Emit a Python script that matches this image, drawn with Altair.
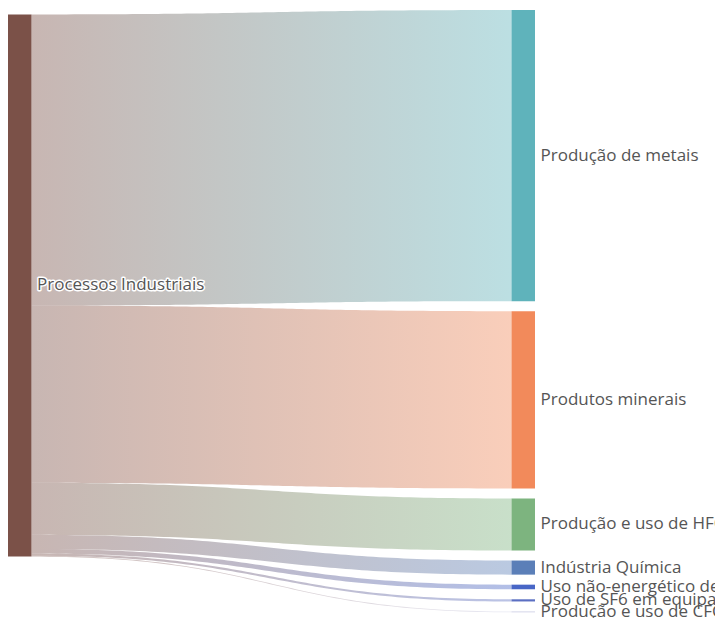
import altair as alt
import numpy as np
import pandas as pd

# Emissões de processos industriais por subsetor (participação, %)
SOURCE = "Processos Industriais"
TARGETS = [
    "Produção de metais",
    "Produtos minerais",
    "Produção e uso de HFCs",
    "Indústria Química",
    "Uso não-energético de combustíveis e uso de solventes",
    "Uso de SF6 em equipamentos elétricos",
    "Produção e uso de CFCs",
]
VALUES = [53.7, 32.7, 9.6, 2.6, 0.85, 0.4, 0.15]

SOURCE_COLOR = "#7b5148"
TARGET_COLORS = ["#5fb3bb", "#f28a5b", "#7db47f", "#5b7fb8", "#4866c6", "#5b6fc2", "#c9cbe4"]

# ---- layout -------------------------------------------------------------
W, H = 715, 618
Y_DOMAIN = 114.0          # value units spanning the full height
LEFT_TOP = 2.66           # top of the source node (value units)
RIGHT_TOP = 1.85          # top of the first target node
NODE_GAP = 1.85           # vertical gap between target nodes
COL_SPAN = 503.5          # px between the two columns
NODE_W = 23.5 / COL_SPAN  # node width in column units
LABEL_DX = 5.5 / COL_SPAN
X_DOMAIN = [-8 / COL_SPAN, (W - 8) / COL_SPAN]
FONT = "Open Sans"
FONT_SIZE = 17

total = sum(VALUES)

# nodes
node_rows = [dict(name=SOURCE, x0=0.0, x1=NODE_W, y0=LEFT_TOP, y1=LEFT_TOP + total)]
right_tops = []
y = RIGHT_TOP
for name, v in zip(TARGETS, VALUES):
    right_tops.append(y)
    node_rows.append(dict(name=name, x0=1.0, x1=1.0 + NODE_W, y0=y, y1=y + v))
    y += v + NODE_GAP
nodes = pd.DataFrame(node_rows)
nodes["ym"] = (nodes["y0"] + nodes["y1"]) / 2
nodes["lx"] = nodes["x1"] + LABEL_DX

# links: band between two horizontal cubic Bézier edges (curveness 0.5)
t = np.linspace(0, 1, 80)
xa, xb = NODE_W, 1.0
d = xb - xa
bx = ((1 - t) ** 3 * xa + 3 * (1 - t) ** 2 * t * (xa + d / 2)
      + 3 * (1 - t) * t ** 2 * (xb - d / 2) + t ** 3 * xb)
ease = 3 * t ** 2 - 2 * t ** 3

link_rows = []
offset = LEFT_TOP
for name, v, rt in zip(TARGETS, VALUES, right_tops):
    s0, s1 = offset, offset + v
    t0, t1 = rt, rt + v
    top = s0 + (t0 - s0) * ease
    bot = s1 + (t1 - s1) * ease
    for xi, a, b in zip(bx, top, bot):
        link_rows.append(dict(target=name, x=xi, ya=a, yb=b))
    offset += v
links = pd.DataFrame(link_rows)

xs = alt.Scale(domain=X_DOMAIN, range=[0, W], nice=False, zero=False)
ys = alt.Scale(domain=[0, Y_DOMAIN], range=[0, H], nice=False, zero=False)

link_layers = []
for name, col in zip(TARGETS, TARGET_COLORS):
    grad = alt.Gradient(
        gradient="linear",
        stops=[alt.GradientStop(color=SOURCE_COLOR, offset=0),
               alt.GradientStop(color=col, offset=1)],
        x1=0, x2=1, y1=0, y2=0,
    )
    link_layers.append(
        alt.Chart(links)
        .transform_filter(alt.datum.target == name)
        .mark_area(fill=grad, fillOpacity=0.42, orient="vertical", interpolate="linear")
        .encode(
            x=alt.X("x:Q", scale=xs, axis=None),
            y=alt.Y("ya:Q", scale=ys, axis=None),
            y2="yb:Q",
        )
    )

node_layer = alt.Chart(nodes).mark_rect().encode(
    x=alt.X("x0:Q", scale=xs, axis=None),
    x2="x1:Q",
    y=alt.Y("y0:Q", scale=ys, axis=None),
    y2="y1:Q",
    color=alt.Color("name:N", scale=alt.Scale(domain=[SOURCE] + TARGETS,
                                              range=[SOURCE_COLOR] + TARGET_COLORS),
                    legend=None),
)

label_enc = dict(
    x=alt.X("lx:Q", scale=xs, axis=None),
    y=alt.Y("ym:Q", scale=ys, axis=None),
    text="name:N",
)
halo = alt.Chart(nodes).mark_text(
    align="left", baseline="middle", font=FONT, fontSize=FONT_SIZE,
    fill="white", stroke="white", strokeWidth=3, strokeJoin="round", clip=True,
).encode(**label_enc)
labels = alt.Chart(nodes).mark_text(
    align="left", baseline="middle", font=FONT, fontSize=FONT_SIZE,
    fill="#555555", clip=True,
).encode(**label_enc)

chart = (
    alt.layer(*link_layers, node_layer, halo, labels)
    .properties(width=W, height=H, padding=0, autosize=alt.AutoSizeParams(type="none"))
    .configure_view(stroke=None)
)

chart.save("out.html", embed_options={"renderer": "svg", "actions": False})
